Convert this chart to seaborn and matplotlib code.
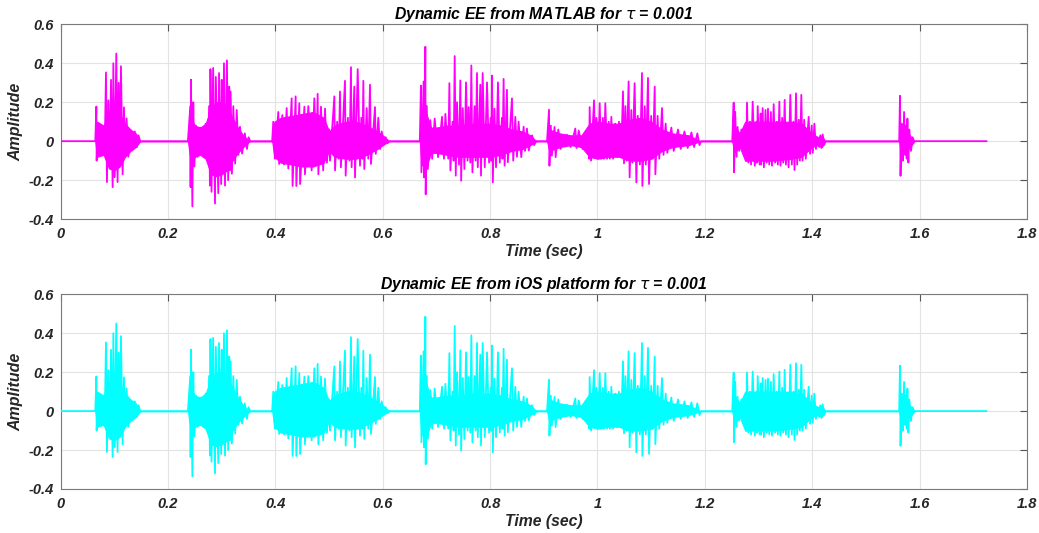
import matplotlib
matplotlib.use("Agg")
import matplotlib.pyplot as plt
import seaborn as sns
import numpy as np
import pandas as pd

# ---------------- data ----------------
# Waveform peaks per voiced segment: time (s) and amplitude
seg1_t = [0.0645, 0.0665, 0.0670, 0.0700, 0.0720, 0.0780, 0.0820, 0.0844, 0.0862, 0.0888, 0.0910, 0.0938,
          0.0968, 0.0981, 0.1005, 0.1036, 0.1060, 0.1080, 0.1100, 0.1123, 0.1154, 0.1179, 0.1200, 0.1228,
          0.1260, 0.1303, 0.1330, 0.1380, 0.1420, 0.1450, 0.1480]
seg1_v = [0, 0.178, -0.10, 0.09, -0.064, 0.065, -0.05, 0.353, -0.21, 0.21, -0.12, 0.315,
          -0.236, 0.40, -0.185, 0.45, -0.21, 0.30, -0.10, 0.385, -0.17, 0.174, -0.08, 0.117,
          -0.08, 0.057, -0.047, 0.05, -0.03, 0.03, 0]

seg2_t = [0.2370, 0.2415, 0.2420, 0.2427, 0.2453, 0.2470, 0.2490, 0.2520, 0.2550, 0.2600, 0.2650, 0.2700,
          0.2740, 0.2765, 0.2780, 0.2790, 0.2810, 0.2840, 0.2875, 0.2890, 0.2936, 0.2950, 0.2990, 0.3000,
          0.3020, 0.3042, 0.3061, 0.3097, 0.3120, 0.3140, 0.3150, 0.3166, 0.3190, 0.3216, 0.3250, 0.3280,
          0.3310, 0.3340, 0.3380, 0.3430, 0.3470, 0.3500, 0.3530]
seg2_v = [0, 0.18, -0.236, 0.316, -0.335, 0.20, -0.13, 0.08, -0.08, 0.07, -0.07, 0.09,
          -0.10, 0.18, -0.228, 0.37, -0.26, 0.376, -0.32, 0.33, -0.267, 0.35, -0.22, 0.315,
          -0.15, 0.40, -0.228, 0.415, -0.20, 0.28, -0.15, 0.255, -0.167, 0.18, -0.115, 0.16,
          -0.07, 0.074, -0.064, 0.04, -0.04, 0.02, 0]

seg3_t = [0.3940, 0.3960, 0.3990, 0.4054, 0.4070, 0.4129, 0.4160, 0.4210, 0.4240, 0.4303, 0.4320, 0.4377,
          0.4390, 0.4445, 0.4460, 0.4540, 0.4550, 0.4613, 0.4675, 0.4725, 0.4760, 0.4787, 0.4800, 0.4849,
          0.4890, 0.4924, 0.4960, 0.5000, 0.5017, 0.5098, 0.5111, 0.5150, 0.5180, 0.5203, 0.5220, 0.5296,
          0.5309, 0.5350, 0.5380, 0.5408, 0.5420, 0.5470, 0.5483, 0.5533, 0.5576, 0.5600, 0.5620, 0.5638,
          0.5656, 0.5700, 0.5730, 0.5762, 0.5780, 0.5855, 0.5870, 0.5917, 0.5950, 0.5980, 0.6020, 0.6053,
          0.6090, 0.6120]
seg3_v = [0, 0.10, -0.09, 0.15, -0.117, 0.134, -0.12, 0.17, -0.14, 0.22, -0.23, 0.23,
          -0.23, 0.195, -0.22, 0.177, -0.17, 0.18, -0.15, 0.22, -0.12, 0.243, -0.17, 0.177,
          -0.15, 0.167, -0.11, 0.06, -0.10, 0.23, -0.15, 0.10, -0.09, 0.255, -0.134, 0.31,
          -0.177, 0.12, -0.10, 0.38, -0.134, 0.28, -0.186, 0.37, -0.126, 0.12, -0.09, 0.31,
          -0.143, 0.17, -0.09, 0.29, -0.117, 0.175, -0.065, 0.12, -0.04, 0.05, -0.017, 0.02,
          -0.01, 0]

seg4_t = [0.6690, 0.6711, 0.6720, 0.6761, 0.6770, 0.6793, 0.6800, 0.6820, 0.6840, 0.6886, 0.6920, 0.6967,
          0.7030, 0.7104, 0.7140, 0.7166, 0.7220, 0.7241, 0.7260, 0.7300, 0.7320, 0.7340, 0.7360, 0.7383,
          0.7420, 0.7445, 0.7460, 0.7490, 0.7520, 0.7551, 0.7580, 0.7600, 0.7630, 0.7650, 0.7670, 0.7710,
          0.7730, 0.7755, 0.7770, 0.7817, 0.7830, 0.7861, 0.7900, 0.7942, 0.7980, 0.8010, 0.8020, 0.8035,
          0.8050, 0.8080, 0.8110, 0.8146, 0.8180, 0.8220, 0.8230, 0.8251, 0.8270, 0.8313, 0.8330, 0.8407,
          0.8430, 0.8469, 0.8500, 0.8530, 0.8580, 0.8624, 0.8650, 0.8686, 0.8720, 0.8780, 0.8820, 0.8855]
seg4_v = [0, 0.285, -0.16, 0.307, -0.186, 0.485, -0.273, 0.18, -0.143, 0.108, -0.09, 0.116,
          -0.082, 0.125, -0.09, 0.14, -0.09, 0.298, -0.15, 0.10, -0.10, 0.437, -0.177, 0.20,
          -0.12, 0.312, -0.203, 0.17, -0.143, 0.302, -0.10, 0.175, -0.11, 0.389, -0.16, 0.18,
          -0.10, 0.35, -0.134, 0.29, -0.177, 0.35, -0.134, 0.302, -0.11, 0.12, -0.10, 0.337,
          -0.212, 0.167, -0.134, 0.302, -0.11, 0.12, -0.09, 0.32, -0.126, 0.264, -0.108, 0.22,
          -0.10, 0.125, -0.08, 0.10, -0.082, 0.074, -0.05, 0.065, -0.048, 0.03, -0.02, 0]

seg5_t = [0.9060, 0.9097, 0.9105, 0.9130, 0.9150, 0.9200, 0.9220, 0.9270, 0.9310, 0.9430, 0.9500, 0.9587,
          0.9610, 0.9650, 0.9720, 0.9780, 0.9810, 0.9830, 0.9845, 0.9854, 0.9880, 0.9935, 0.9960, 0.9980,
          1.0010, 1.0041, 1.0070, 1.0100, 1.0120, 1.0146, 1.0180, 1.0210, 1.0230, 1.0258, 1.0290, 1.0330,
          1.0370, 1.0400, 1.0440, 1.0475, 1.0494, 1.0520, 1.0540, 1.0580, 1.0599, 1.0630, 1.0650, 1.0692,
          1.0724, 1.0750, 1.0790, 1.0829, 1.0836, 1.0880, 1.0900, 1.0941, 1.0960, 1.1000, 1.1030, 1.1066,
          1.1078, 1.1120, 1.1150, 1.1202, 1.1230, 1.1270, 1.1300, 1.1376, 1.1420, 1.1500, 1.1550, 1.1620,
          1.1680, 1.1750, 1.1800, 1.1860, 1.1900, 1.1930]
seg5_v = [0, 0.162, -0.126, 0.08, -0.074, 0.073, -0.082, 0.06, -0.04, 0.033, -0.03, 0.065,
          -0.035, 0.055, -0.04, 0.03, -0.05, 0.056, -0.09, 0.175, -0.10, 0.21, -0.08, 0.12,
          -0.09, 0.195, -0.09, 0.12, -0.09, 0.195, -0.09, 0.10, -0.09, 0.125, -0.09, 0.09,
          -0.08, 0.10, -0.08, 0.256, -0.114, 0.18, -0.10, 0.307, -0.186, 0.16, -0.11, 0.298,
          -0.212, 0.13, -0.12, 0.35, -0.23, 0.18, -0.12, 0.325, -0.22, 0.13, -0.09, 0.28,
          -0.17, 0.13, -0.09, 0.17, -0.07, 0.09, -0.06, 0.07, -0.05, 0.06, -0.04, 0.05,
          -0.035, 0.045, -0.03, 0.04, -0.02, 0]

seg6_t = [1.2510, 1.2537, 1.2545, 1.2565, 1.2590, 1.2610, 1.2640, 1.2680, 1.2720, 1.2750, 1.2770, 1.2785,
          1.2810, 1.2840, 1.2860, 1.2891, 1.2930, 1.2960, 1.2970, 1.2984, 1.3020, 1.3040, 1.3050, 1.3077,
          1.3100, 1.3130, 1.3150, 1.3176, 1.3200, 1.3230, 1.3250, 1.3282, 1.3310, 1.3340, 1.3360, 1.3388,
          1.3410, 1.3440, 1.3460, 1.3487, 1.3510, 1.3540, 1.3560, 1.3592, 1.3620, 1.3650, 1.3670, 1.3698,
          1.3720, 1.3750, 1.3770, 1.3797, 1.3820, 1.3850, 1.3880, 1.3934, 1.3960, 1.3990, 1.4010, 1.4040,
          1.4070, 1.4100, 1.4130, 1.4151, 1.4170, 1.4195, 1.4220, 1.4245]
seg6_v = [0, 0.198, -0.16, 0.151, -0.08, 0.073, -0.05, 0.06, -0.04, 0.03, -0.10, 0.198,
          -0.11, 0.10, -0.12, 0.203, -0.126, 0.10, -0.11, 0.18, -0.12, 0.142, -0.12, 0.17,
          -0.134, 0.16, -0.11, 0.167, -0.12, 0.15, -0.126, 0.19, -0.11, 0.10, -0.12, 0.203,
          -0.126, 0.12, -0.11, 0.212, -0.12, 0.09, -0.134, 0.238, -0.12, 0.10, -0.148, 0.246,
          -0.12, 0.11, -0.10, 0.238, -0.10, 0.11, -0.09, 0.125, -0.065, 0.08, -0.06, 0.09,
          -0.04, 0.02, -0.03, 0.03, -0.035, 0.035, -0.02, 0]

seg7_t = [1.5620, 1.5635, 1.5645, 1.5665, 1.5680, 1.5690, 1.5711, 1.5730, 1.5745, 1.5760, 1.5773, 1.5791,
          1.5810, 1.5840, 1.5870, 1.5897]
seg7_v = [0, 0.233, -0.178, 0.09, -0.05, -0.10, 0.15, -0.07, 0.08, -0.09, 0.116, -0.11,
          0.06, -0.05, 0.02, 0]

signal_start = 0.0
signal_end = 1.725

# Dense body envelope of the waveform (time, upper, lower)
env_t = [0.0645, 0.068, 0.080, 0.090, 0.100, 0.110, 0.120, 0.130, 0.140, 0.148,
         0.237, 0.243, 0.250, 0.260, 0.270, 0.280, 0.290, 0.300, 0.310, 0.320, 0.330, 0.340, 0.352,
         0.394, 0.398, 0.410, 0.430, 0.450, 0.470, 0.490, 0.500, 0.510, 0.530, 0.550, 0.570, 0.590, 0.600, 0.612,
         0.669, 0.672, 0.680, 0.690, 0.700, 0.720, 0.740, 0.760, 0.780, 0.800, 0.820, 0.840, 0.860, 0.875, 0.886,
         0.906, 0.910, 0.930, 0.950, 0.970, 0.985, 1.000, 1.020, 1.040, 1.060, 1.080, 1.100, 1.120, 1.140, 1.170, 1.192,
         1.251, 1.255, 1.265, 1.275, 1.300, 1.330, 1.360, 1.380, 1.400, 1.410, 1.418, 1.424,
         1.562, 1.565, 1.575, 1.585, 1.590]
env_hi = [0, 0.10, 0.08, 0.15, 0.17, 0.14, 0.09, 0.06, 0.04, 0,
          0, 0.12, 0.08, 0.07, 0.09, 0.17, 0.20, 0.20, 0.18, 0.12, 0.07, 0.03, 0,
          0, 0.10, 0.12, 0.13, 0.14, 0.15, 0.12, 0.05, 0.08, 0.10, 0.10, 0.08, 0.05, 0.03, 0,
          0, 0.12, 0.15, 0.07, 0.07, 0.08, 0.08, 0.09, 0.09, 0.09, 0.08, 0.06, 0.05, 0.03, 0,
          0, 0.06, 0.04, 0.03, 0.03, 0.09, 0.10, 0.09, 0.09, 0.11, 0.12, 0.10, 0.06, 0.04, 0.03, 0,
          0, 0.08, 0.04, 0.10, 0.10, 0.10, 0.10, 0.09, 0.04, 0.02, 0.03, 0,
          0, 0.05, 0.05, 0.02, 0]
env_lo = [0, -0.08, -0.07, -0.14, -0.15, -0.13, -0.08, -0.05, -0.03, 0,
          0, -0.12, -0.08, -0.07, -0.09, -0.17, -0.18, -0.17, -0.15, -0.10, -0.06, -0.03, 0,
          0, -0.08, -0.11, -0.12, -0.13, -0.13, -0.11, -0.05, -0.08, -0.09, -0.09, -0.07, -0.04, -0.02, 0,
          0, -0.12, -0.14, -0.06, -0.06, -0.07, -0.08, -0.08, -0.08, -0.08, -0.07, -0.05, -0.04, -0.02, 0,
          0, -0.05, -0.03, -0.02, -0.03, -0.08, -0.09, -0.08, -0.08, -0.10, -0.10, -0.09, -0.05, -0.03, -0.02, 0,
          0, -0.06, -0.03, -0.10, -0.10, -0.10, -0.09, -0.08, -0.03, -0.02, -0.03, 0,
          0, -0.05, -0.05, -0.02, 0]

x_ticks = [0, 0.2, 0.4, 0.6, 0.8, 1.0, 1.2, 1.4, 1.6, 1.8]
x_labels = ["0", "0.2", "0.4", "0.6", "0.8", "1", "1.2", "1.4", "1.6", "1.8"]
y_ticks = [-0.4, -0.2, 0, 0.2, 0.4, 0.6]
y_labels = ["-0.4", "-0.2", "0", "0.2", "0.4", "0.6"]

titles = [r"Dynamic EE from MATLAB for $\tau$ = 0.001",
          r"Dynamic EE from iOS platform for $\tau$ = 0.001"]
colors = ["#FF00FF", "#00FFFF"]

# ---------------- build table ----------------
wave_t = [signal_start] + seg1_t + seg2_t + seg3_t + seg4_t + seg5_t + seg6_t + seg7_t + [signal_end]
wave_v = [0] + seg1_v + seg2_v + seg3_v + seg4_v + seg5_v + seg6_v + seg7_v + [0]
df_matlab = pd.DataFrame({"Time": wave_t, "Amplitude": wave_v})
df_ios = pd.DataFrame({"Time": wave_t, "Amplitude": wave_v})  # iOS output matches MATLAB
frames = [df_matlab, df_ios]

# ---------------- plotting ----------------
sns.set_theme(style="white")
plt.rcParams["font.family"] = ["Liberation Sans", "DejaVu Sans"]
plt.rcParams["mathtext.fontset"] = "dejavusans"

fig = plt.figure(figsize=(10.39, 5.33), dpi=100)
positions = [[0.0584, 0.589, 0.930, 0.3653], [0.0584, 0.0826, 0.930, 0.3652]]

tick_col = "#262626"
for i in range(2):
    ax = fig.add_axes(positions[i])
    ax.fill_between(env_t, env_lo, env_hi, color=colors[i], lw=0.8, zorder=2)
    sns.lineplot(data=frames[i], x="Time", y="Amplitude", ax=ax, color=colors[i],
                 lw=1.3, estimator=None, sort=False, zorder=3)
    ax.set_xlim(0, 1.8)
    ax.set_ylim(-0.4, 0.6)
    ax.set_xticks(x_ticks)
    ax.set_xticklabels(x_labels)
    ax.set_yticks(y_ticks)
    ax.set_yticklabels(y_labels)
    ax.grid(True, color="#e3e3e3", lw=0.8)
    ax.set_axisbelow(True)
    ax.tick_params(direction="in", length=5, width=0.8, color="#555555",
                   top=True, right=True, labelsize=10.5, labelcolor=tick_col)
    ax.tick_params(axis="x", pad=6)
    ax.tick_params(axis="y", pad=5)
    for lab in ax.get_xticklabels() + ax.get_yticklabels():
        lab.set_fontweight("bold")
        lab.set_fontstyle("italic")
    for s in ax.spines.values():
        s.set_color("#7a7a7a")
        s.set_linewidth(0.8)
    ax.set_xlabel("Time (sec)", fontsize=11.3, fontweight="bold", fontstyle="italic",
                  color=tick_col, labelpad=2)
    ax.set_ylabel("Amplitude", fontsize=11.5, fontweight="bold", fontstyle="italic",
                  color=tick_col, labelpad=4)
    ax.set_title(titles[i], fontsize=11.3, fontweight="bold", fontstyle="italic",
                 color="black", pad=4)

fig.savefig("out.png", dpi=100)
